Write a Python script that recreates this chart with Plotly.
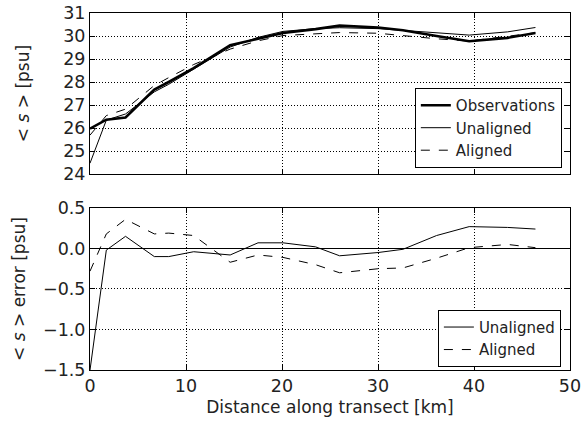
import plotly.graph_objects as go

distance_km = [0, 1.7, 3.7, 6.7, 8.2, 10.8, 14.6, 17.5, 20.1, 23.5, 26.0, 30.0, 32.6, 36.1, 39.5, 43.5, 46.4]
obs = [25.97, 26.36, 26.46, 27.67, 28.0, 28.6, 29.6, 29.87, 30.13, 30.3, 30.45, 30.37, 30.25, 30.0, 29.77, 29.92, 30.13]
unaligned = [24.47, 26.34, 26.61, 27.57, 27.9, 28.56, 29.52, 29.94, 30.2, 30.32, 30.36, 30.32, 30.24, 30.16, 30.04, 30.18, 30.37]
aligned = [25.69, 26.54, 26.82, 27.85, 28.19, 28.76, 29.43, 29.79, 30.02, 30.1, 30.15, 30.12, 30.01, 29.88, 29.78, 29.97, 30.14]
err_unaligned = [-1.5, -0.02, 0.15, -0.10, -0.10, -0.04, -0.08, 0.07, 0.07, 0.02, -0.09, -0.05, -0.01, 0.16, 0.27, 0.26, 0.24]
err_aligned = [-0.28, 0.18, 0.36, 0.18, 0.19, 0.16, -0.17, -0.08, -0.11, -0.2, -0.30, -0.25, -0.24, -0.12, 0.01, 0.05, 0.01]

x_ticks = [0, 10, 20, 30, 40, 50]
top_ticks = [24, 25, 26, 27, 28, 29, 30, 31]
bot_ticks = [-1.5, -1.0, -0.5, 0.0, 0.5]

FONT = "DejaVu Sans"
TXT = "#222"
fig = go.Figure()

fig.add_trace(go.Scatter(x=distance_km, y=obs, mode="lines", name="Observations",
                         line=dict(color="black", width=2.6), xaxis="x", yaxis="y", legend="legend"))
fig.add_trace(go.Scatter(x=distance_km, y=unaligned, mode="lines", name="Unaligned",
                         line=dict(color="black", width=1), xaxis="x", yaxis="y", legend="legend"))
fig.add_trace(go.Scatter(x=distance_km, y=aligned, mode="lines", name="Aligned",
                         line=dict(color="black", width=1, dash="dash"), xaxis="x", yaxis="y", legend="legend"))
fig.add_trace(go.Scatter(x=distance_km, y=err_unaligned, mode="lines", name="Unaligned",
                         line=dict(color="black", width=1), xaxis="x2", yaxis="y2", legend="legend2"))
fig.add_trace(go.Scatter(x=distance_km, y=err_aligned, mode="lines", name="Aligned",
                         line=dict(color="black", width=1, dash="dash"), xaxis="x2", yaxis="y2", legend="legend2"))

axis_common = dict(showline=True, linecolor="black", linewidth=1, mirror="ticks",
                   ticks="inside", ticklen=5, tickcolor="black", automargin=False,
                   ticklabeloverflow="allow",
                   showgrid=True, gridcolor="black", gridwidth=1, griddash="1px,2px",
                   tickfont=dict(family=FONT, size=17.5, color=TXT))

fig.update_layout(
    width=581, height=423,
    margin=dict(l=90, r=11, t=13, b=53, autoexpand=False),
    paper_bgcolor="white", plot_bgcolor="white",
    font=dict(family=FONT, color=TXT),
    xaxis=dict(domain=[0, 1], range=[0, 50], tickvals=x_ticks, showticklabels=False,
               anchor="y", zeroline=False, **axis_common),
    yaxis=dict(domain=[0.549, 1], range=[24, 31], tickvals=top_ticks, zeroline=False,
               title=dict(text="&lt; <i>s</i> &gt; [psu]", font=dict(family=FONT, size=17, color=TXT), standoff=29),
               **axis_common),
    xaxis2=dict(domain=[0, 1], range=[0, 50], tickvals=x_ticks, anchor="y2", zeroline=False,
                title=dict(text="Distance along transect [km]", font=dict(family=FONT, size=17, color=TXT), standoff=6),
                **axis_common),
    yaxis2=dict(domain=[0, 0.4538], range=[-1.5, 0.5], tickvals=bot_ticks, tickformat=".1f",
                zeroline=True, zerolinecolor="black", zerolinewidth=1, anchor="x2",
                title=dict(text="&lt; <i>s</i> &gt; error [psu]", font=dict(family=FONT, size=17, color=TXT), standoff=13),
                **axis_common),
    legend=dict(x=0.983, y=0.566, xanchor="right", yanchor="bottom",
                bgcolor="white", bordercolor="black", borderwidth=1,
                font=dict(family=FONT, size=15, color=TXT)),
    legend2=dict(x=0.981, y=0.009, xanchor="right", yanchor="bottom",
                 bgcolor="white", bordercolor="black", borderwidth=1,
                 font=dict(family=FONT, size=15, color=TXT)),
    showlegend=True,
)

fig.write_html("out.html")
